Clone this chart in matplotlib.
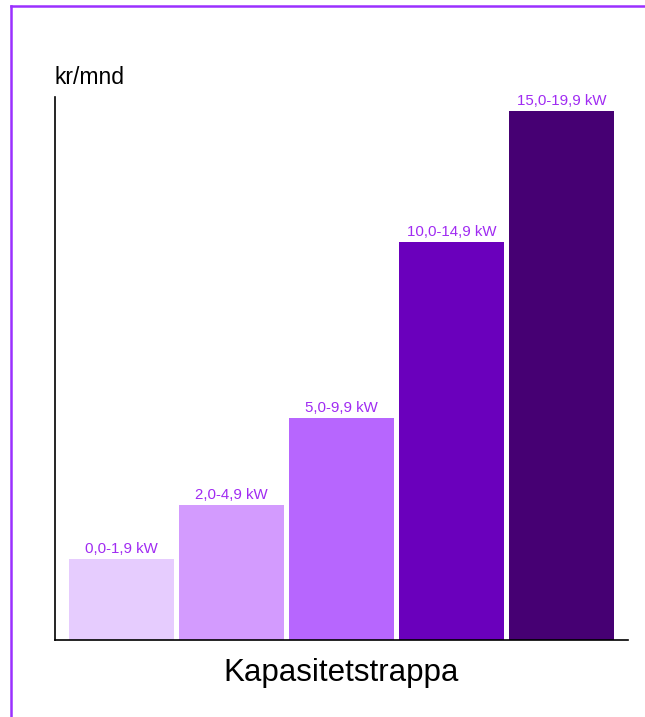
import matplotlib.pyplot as plt
from matplotlib.lines import Line2D

plt.rcParams['font.family'] = ['Liberation Sans', 'DejaVu Sans']

# capacity steps (kr/mnd - no tick values shown)
labels = ['0,0-1,9 kW', '2,0-4,9 kW', '5,0-9,9 kW', '10,0-14,9 kW', '15,0-19,9 kW']
values = [81, 135, 222, 398, 529]
colors = ['#E6CCFE', '#D39BFE', '#B766FE', '#6A00BC', '#460073']
label_color = '#A02BF2'

fig = plt.figure(figsize=(6.45, 7.17), dpi=100)
ax = fig.add_axes([0.0853, 0.1074, 0.8884, 0.7573])

x = range(len(values))
bars = ax.bar(x, values, width=0.955, color=colors)

for b, lab in zip(bars, labels):
    ax.annotate(lab, (b.get_x() + b.get_width() / 2, b.get_height()),
                xytext=(0, 2.5), textcoords='offset points',
                ha='center', va='bottom', fontsize=10.8, color=label_color)

ax.set_xlim(-0.6045, 4.6045)
ax.set_ylim(0, 543)
ax.set_xticks([])
ax.set_yticks([])
for s in ['top', 'right']:
    ax.spines[s].set_visible(False)
ax.spines['left'].set_linewidth(1.2)
ax.spines['bottom'].set_linewidth(1.2)

ax.set_xlabel('Kapasitetstrappa', fontsize=22.5, labelpad=13)
fig.text(54 / 645, 1 - 78 / 717, 'kr/mnd', fontsize=16.5, ha='left', va='center')

# purple frame (left and top edges)
fig.add_artist(Line2D([10.5 / 645, 10.5 / 645], [0, 1 - 5.5 / 717],
                      color='#9B30FF', lw=1.8, transform=fig.transFigure))
fig.add_artist(Line2D([10.5 / 645, 1], [1 - 5.5 / 717, 1 - 5.5 / 717],
                      color='#9B30FF', lw=1.8, transform=fig.transFigure))

fig.savefig('out.png', dpi=100)
